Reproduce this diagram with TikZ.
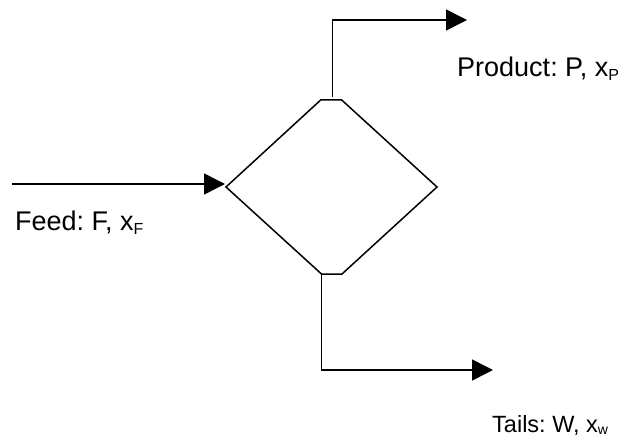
\documentclass[tikz,border=0pt]{standalone}
\usepackage{fontspec}
\setmainfont{Liberation Sans}
\usetikzlibrary{arrows.meta}
\frenchspacing
\newcommand\mysub[2]{\raisebox{-0.12em}{\fontsize{#1}{#1}\selectfont #2}}
\begin{document}
\begin{tikzpicture}[x=1pt,y=-1pt,
  flow/.style={line width=1.5pt,-{Triangle[length=21pt,width=21pt]}},
  vessel/.style={line width=1.5pt,line join=miter},
  lbl/.style={inner sep=0pt,anchor=base west,font=\fontsize{27}{32}\selectfont},
  smalllbl/.style={inner sep=0pt,anchor=base west,font=\fontsize{23.5}{28}\selectfont}]
\useasboundingbox (0,0) rectangle (623,438);
% separator vessel (diamond with flat top and bottom)
\coordinate (tl) at (320.7,100);
\coordinate (tr) at (341.7,100);
\coordinate (lv) at (226,187);
\coordinate (rv) at (437,187);
\coordinate (bl) at (321.5,274);
\coordinate (br) at (342,274);
\draw[vessel] (tl) -- (tr) -- (rv) -- (br) -- (bl) -- (lv) -- cycle;
% stream end points
\coordinate (feedstart) at (12,184);
\coordinate (feedend) at (225,184);
\coordinate (topout) at (332.7,97);
\coordinate (prodend) at (467,20);
\coordinate (botout) at (321.5,274);
\coordinate (tailsend) at (493,370);
\draw[flow] (feedstart) -- (feedend);
\draw[flow] (topout) |- (prodend);
\draw[flow] (botout) |- (tailsend);
% labels
\node[lbl] (prod) at (457,77) {Product: P, x\mysub{16}{P}};
\node[lbl] (feed) at (15,231) {Feed: F, x\mysub{16}{F}};
\node[smalllbl] (tails) at (492,432) {Tails: W, x\mysub{14}{w}};
\end{tikzpicture}
\end{document}
